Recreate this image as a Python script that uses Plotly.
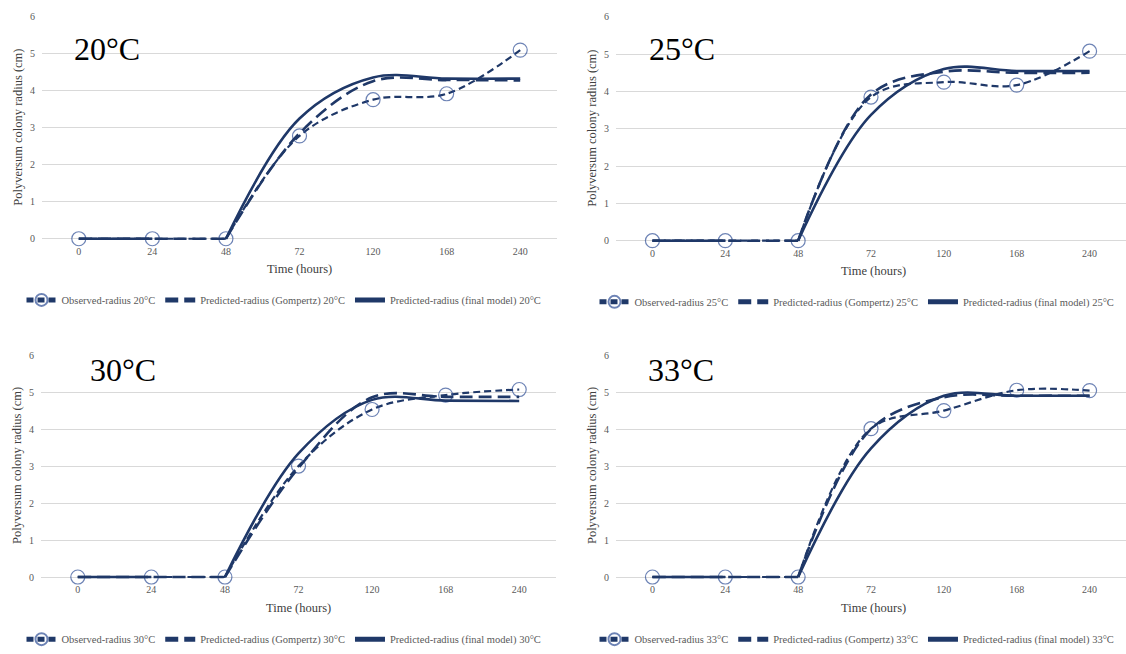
import plotly.graph_objects as go

# ---------------- data ----------------
time_labels = ["0", "24", "48", "72", "120", "168", "240"]
temps = ["20°C", "25°C", "30°C", "33°C"]

obs_20 = [0, 0, 0, 2.78, 3.76, 3.92, 5.10]
gomp_20 = [0, 0, 0, 2.85, 4.26, 4.29, 4.28]
final_20 = [0, 0, 0, 3.25, 4.36, 4.33, 4.33]

obs_25 = [0, 0, 0, 3.85, 4.25, 4.17, 5.08]
gomp_25 = [0, 0, 0, 3.92, 4.53, 4.50, 4.50]
final_25 = [0, 0, 0, 3.37, 4.60, 4.55, 4.55]

obs_30 = [0, 0, 0, 3.00, 4.53, 4.92, 5.07]
gomp_30 = [0, 0, 0, 2.95, 4.86, 4.87, 4.87]
final_30 = [0, 0, 0, 3.34, 4.79, 4.77, 4.76]

obs_33 = [0, 0, 0, 4.01, 4.50, 5.05, 5.04]
gomp_33 = [0, 0, 0, 4.00, 4.86, 4.90, 4.90]
final_33 = [0, 0, 0, 3.48, 4.90, 4.90, 4.90]

observed = [obs_20, obs_25, obs_30, obs_33]
gompertz = [gomp_20, gomp_25, gomp_30, gomp_33]
final = [final_20, final_25, final_30, final_33]

# ---------------- layout geometry ----------------
W, H = 1126, 654
# (x0, x1, y_top(6), y_bottom(0)) in pixels
panels = [
    (42, 557, 12, 237),
    (616, 1126, 12, 239),
    (41, 556, 355, 580),
    (616, 1126, 355, 580),
]
legend_pos = [(284, 299), (857, 301), (284, 643), (857, 643)]
YMIN = -0.06

NAVY = "#1F3868"
MARK = "#2F4E95"
GRID = "#D9D9D9"
TICK = "#595959"
SERIF = "Liberation Serif, Times New Roman, serif"


def split_series(vals, keep_bridge):
    """Split into the flat lag phase and the growth phase (smoothed separately)."""
    k = 2  # index of the 48 h category where growth starts
    a_end = k + 1 if keep_bridge else k
    xs = time_labels[:a_end] + [None] + time_labels[k:]
    ys = list(vals[:a_end]) + [None] + list(vals[k:])
    return xs, ys


fig = go.Figure()
annotations = []

for i, t in enumerate(temps):
    x0, x1, yt, yb = panels[i]
    ax = "" if i == 0 else str(i + 1)
    xa, ya = "x" + ax, "y" + ax
    lg = "legend" if i == 0 else "legend" + str(i + 1)

    ox, oy = split_series(observed[i], True)
    # circle on every real point, none on the repeated 48 h point / gap
    sizes = [14, 14, 14, 0, 0] + [14] * (len(ox) - 5)
    fig.add_trace(go.Scatter(
        x=ox, y=oy, xaxis=xa, yaxis=ya, legend=lg, connectgaps=False,
        name="Observed-radius " + t, mode="lines+markers", cliponaxis=False,
        line=dict(color=NAVY, width=2.2, dash="7px,4px", shape="spline", smoothing=1),
        marker=dict(symbol="circle-open", size=sizes, color=MARK,
                    line=dict(width=1.2, color=MARK)),
    ))
    gx, gy = split_series(gompertz[i], True)
    fig.add_trace(go.Scatter(
        x=gx, y=gy, xaxis=xa, yaxis=ya, legend=lg, connectgaps=False,
        name="Predicted-radius (Gompertz) " + t, mode="lines",
        line=dict(color=NAVY, width=2.6, dash="13px,6px", shape="spline", smoothing=1),
    ))
    fx, fy = split_series(final[i], False)
    fig.add_trace(go.Scatter(
        x=fx, y=fy, xaxis=xa, yaxis=ya, legend=lg, connectgaps=False,
        name="Predicted-radius (final model) " + t, mode="lines",
        line=dict(color=NAVY, width=2.6, shape="spline", smoothing=1),
    ))

    unit = (yb - yt) / 6.0
    ybottom = yb - YMIN * unit
    xdom = [x0 / W, min(x1 / W, 1.0)]
    ydom = [1 - ybottom / H, 1 - yt / H]
    fig.layout["xaxis" + ax] = dict(
        domain=xdom, anchor=ya, type="category", range=[-0.5, 6.5],
        showgrid=False, showline=False, zeroline=False, ticks="",
        ticklabelstandoff=3,
        tickfont=dict(family=SERIF, size=10, color=TICK),
    )
    fig.layout["yaxis" + ax] = dict(
        domain=ydom, anchor=xa, range=[YMIN, 6], dtick=1, tick0=0,
        showgrid=True, gridcolor=GRID, gridwidth=1, zeroline=False, showline=False,
        ticks="", ticklabelstandoff=6,
        tickfont=dict(family=SERIF, size=10, color=TICK),
    )
    lx, ly = legend_pos[i]
    fig.layout[lg] = dict(
        orientation="h", x=lx / W, xanchor="center",
        y=1 - ly / H, yanchor="middle", bgcolor="rgba(0,0,0,0)",
        font=dict(family=SERIF, size=10.5, color=TICK),
        itemsizing="constant", tracegroupgap=0,
    )
    annotations.append(dict(
        text="Time (hours)", xref="paper", yref="paper",
        x=(x0 + x1 if i % 2 == 0 else x0 + 1130) / 2 / W, y=1 - (yb + 31) / H,
        showarrow=False, xanchor="center", yanchor="middle",
        font=dict(family=SERIF, size=12.5, color="#404040"),
    ))
    annotations.append(dict(
        text="Polyversum colony radius (cm)", xref="paper", yref="paper",
        x=(x0 - 24) / W, y=1 - (yt + yb) / 2 / H, textangle=-90,
        showarrow=False, xanchor="center", yanchor="middle",
        font=dict(family=SERIF, size=12.5, color="#404040"),
    ))
    lab_x = [107, 682, 123, 681][i]
    lab_y = [45, 45, 370, 370][i]
    annotations.append(dict(
        text=t, xref="paper", yref="paper", x=lab_x / W, y=1 - lab_y / H,
        showarrow=False, xanchor="center", yanchor="middle",
        font=dict(family=SERIF, size=32, color="#000000"),
    ))

fig.update_layout(
    width=W, height=H, margin=dict(l=0, r=0, t=0, b=0),
    paper_bgcolor="white", plot_bgcolor="white",
    annotations=annotations, showlegend=True,
)

fig.write_html(
    "out.html",
    config={"displayModeBar": False},
    post_script="document.body.style.margin='0';document.body.style.overflow='hidden';",
)
